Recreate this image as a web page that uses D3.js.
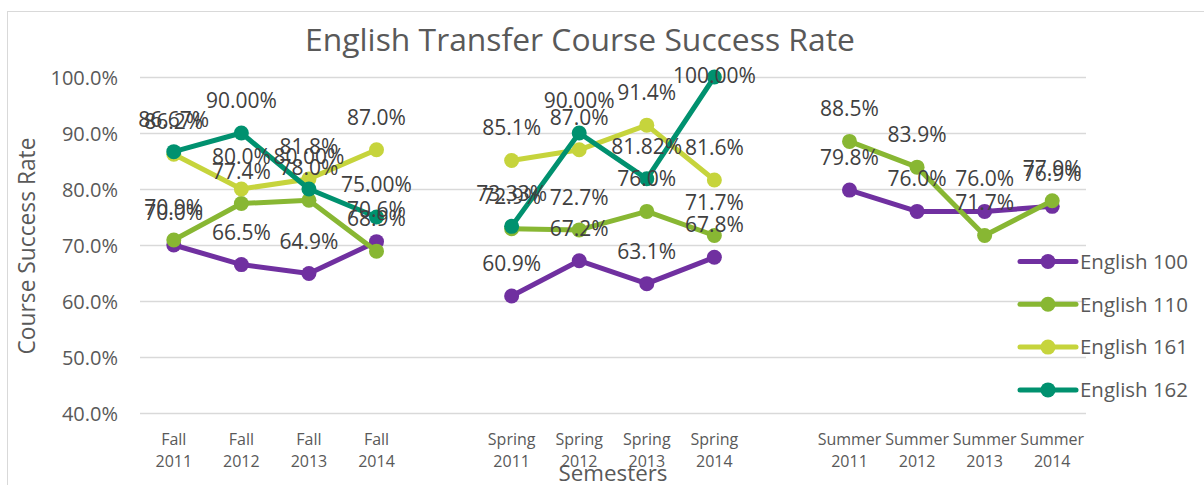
<!DOCTYPE html>
<html>
<head>
<meta charset="utf-8">
<script src="https://cdn.jsdelivr.net/npm/d3@7"></script>
<style>
  html, body { margin: 0; padding: 0; background: #fff; }
  svg { display: block; font-family: "Open Sans", "Liberation Sans", sans-serif; }
</style>
</head>
<body>
<svg id="chart" width="1204" height="485"></svg>
<script>
// ---- data ----
const categories = ["Fall 2011", "Fall 2012", "Fall 2013", "Fall 2014", "",
  "Spring 2011", "Spring 2012", "Spring 2013", "Spring 2014", "",
  "Summer 2011", "Summer 2012", "Summer 2013", "Summer 2014"];
const seriesNames = ["English 100", "English 110", "English 161", "English 162"];
const english100 = [70.0, 66.5, 64.9, 70.6, null, 60.9, 67.2, 63.1, 67.8, null, 79.8, 76.0, 76.0, 76.9];
const english110 = [70.9, 77.4, 78.0, 68.9, null, 72.9, 72.7, 76.0, 71.7, null, 88.5, 83.9, 71.7, 77.9];
const english161 = [86.2, 80.0, 81.8, 87.0, null, 85.1, 87.0, 91.4, 81.6, null, null, null, null, null];
const english162 = [86.67, 90.00, 80.00, 75.00, null, 73.33, 90.00, 81.82, 100.00, null, null, null, null, null];
const labelDecimals = [1, 1, 1, 2];
const yTicks = [40, 50, 60, 70, 80, 90, 100];
const titleText = "English Transfer Course Success Rate";
const yTitle = "Course Success Rate";
const xTitle = "Semesters";

// ---- styles ----
const colors = ["#7030a0", "#88b733", "#c6d43c", "#00916f"];
const seriesValues = [english100, english110, english161, english162];

const svg = d3.select("#chart");
const W = 1204, H = 485;
const plot = { left: 140, right: 1086, top: 77, bottom: 413 };

function fit(sel, width) {
  const l = sel.node().getComputedTextLength();
  const fs = parseFloat(sel.attr("font-size"));
  sel.attr("font-size", fs * width / l);
}

// chart border
svg.append("rect").attr("x", 7.5).attr("y", 11.5).attr("width", W).attr("height", H)
  .attr("fill", "none").attr("stroke", "#d9d9d9").attr("stroke-width", 1);

const x = d3.scaleBand().domain(d3.range(categories.length)).range([plot.left, plot.right]);
const cx = i => x(i) + x.bandwidth() / 2;
const y = d3.scaleLinear().domain([40, 100]).range([plot.bottom, plot.top]);

// gridlines
svg.append("g").attr("transform", `translate(${plot.left},0)`)
  .call(d3.axisRight(y).tickValues(yTicks).tickSize(plot.right - plot.left).tickFormat(""))
  .call(g => g.select(".domain").remove())
  .call(g => g.selectAll("line").attr("stroke", "#d9d9d9").attr("stroke-width", 1.5));

// y axis labels
svg.append("g").attr("transform", `translate(118,0)`)
  .call(d3.axisLeft(y).tickValues(yTicks).tickSize(0).tickPadding(0).tickFormat(d => d3.format(".1f")(d) + "%"))
  .call(g => g.select(".domain").remove())
  .call(g => g.selectAll("text").attr("fill", "#595959").attr("font-size", 20)
    .attr("font-family", "'Open Sans', sans-serif").attr("dy", "0.36em"));

// x axis labels
const xa = svg.append("g").attr("transform", `translate(0,${plot.bottom})`)
  .call(d3.axisBottom(x).tickSize(0).tickFormat(""));
xa.select(".domain").remove();
xa.selectAll(".tick").each(function(i) {
  const parts = categories[i].split(" ");
  const t = d3.select(this).append("text").attr("fill", "#595959").attr("font-size", 16)
    .attr("font-family", "'Open Sans', sans-serif").attr("text-anchor", "middle");
  if (parts[0]) {
    t.append("tspan").attr("x", 0).attr("y", 32).text(parts[0]);
    t.append("tspan").attr("x", 0).attr("y", 54).text(parts[1]);
  }
});

// lines and markers
const line = d3.line().defined(d => d.v != null).x(d => cx(d.i)).y(d => y(d.v));
seriesValues.forEach((vals, s) => {
  const pts = vals.map((v, i) => ({ v, i }));
  const g = svg.append("g");
  g.append("path").datum(pts).attr("d", line).attr("fill", "none")
    .attr("stroke", colors[s]).attr("stroke-width", 5).attr("stroke-linejoin", "round");
  g.selectAll("circle").data(pts.filter(d => d.v != null)).join("circle")
    .attr("cx", d => cx(d.i)).attr("cy", d => y(d.v)).attr("r", 7.5).attr("fill", colors[s]);
});

// data labels (kept inside the plot area, as the spreadsheet does)
seriesValues.forEach((vals, s) => {
  svg.append("g").selectAll("text").data(vals.map((v, i) => ({ v, i })).filter(d => d.v != null))
    .join("text")
    .attr("x", d => cx(d.i)).attr("y", d => Math.max(y(d.v) - 25, plot.top + 6))
    .attr("text-anchor", "middle").attr("fill", "#404040").attr("font-size", 21)
    .text(d => d.v.toFixed(labelDecimals[s]) + "%");
});

// title
const tt = svg.append("text").attr("x", 580).attr("y", 51).attr("text-anchor", "middle")
  .attr("fill", "#595959").attr("font-size", 28).text(titleText);
fit(tt, 550);

// y title
const yt = svg.append("text").attr("transform", "translate(35,246) rotate(-90)")
  .attr("text-anchor", "middle").attr("fill", "#595959").attr("font-size", 20).text(yTitle);
fit(yt, 217);

// x title
const xt = svg.append("text").attr("x", 613).attr("y", 481).attr("text-anchor", "middle")
  .attr("fill", "#595959").attr("font-size", 22).text(xTitle);
fit(xt, 109);

// legend
const lg = svg.append("g");
seriesNames.forEach((name, s) => {
  const ly = 261.5 + s * 42.8;
  lg.append("line").attr("x1", 1020).attr("x2", 1076).attr("y1", ly).attr("y2", ly)
    .attr("stroke", colors[s]).attr("stroke-width", 5).attr("stroke-linecap", "round");
  lg.append("circle").attr("cx", 1048).attr("cy", ly).attr("r", 7.5).attr("fill", colors[s]);
  const t = lg.append("text").attr("x", 1080).attr("y", ly).attr("dy", "0.36em")
    .attr("fill", "#595959").attr("font-size", 20).text(name);
  fit(t, 108);
});
</script>
</body>
</html>
